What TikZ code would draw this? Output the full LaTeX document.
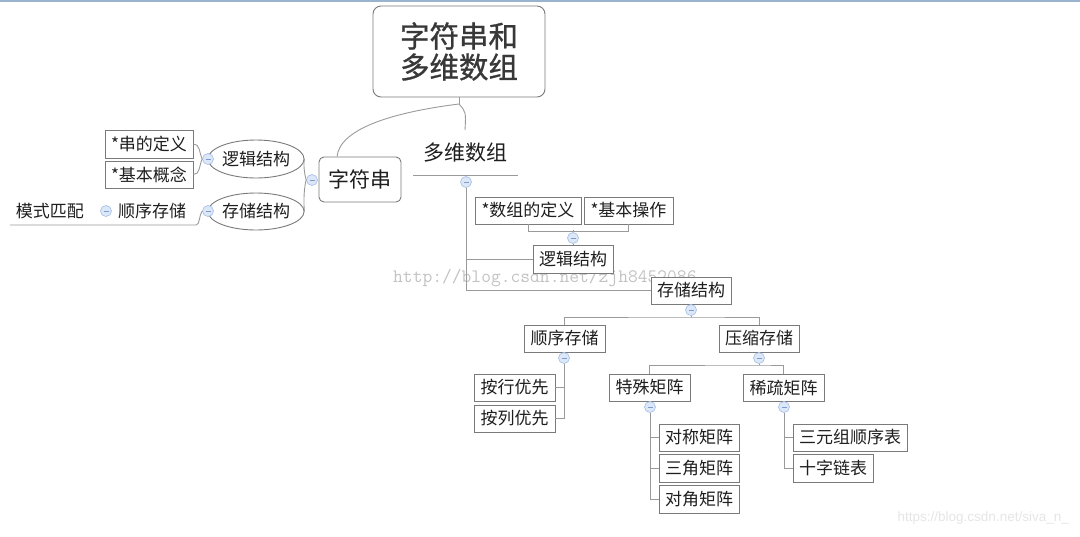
\documentclass[tikz,border=0pt]{standalone}
\usepackage{fontspec}
\usetikzlibrary{shapes.geometric,calc}
\newfontfamily\cjk{Noto Sans CJK SC}
\newfontfamily\cjkmed[FakeBold=0.9]{Noto Sans CJK SC}
\newfontfamily\wmsans{Liberation Sans}
\definecolor{boxgray}{HTML}{7A7A7A}
\definecolor{linegray}{HTML}{9A9A9A}
\definecolor{txt}{HTML}{1E1E1E}
\definecolor{topbar}{HTML}{9AB4D0}
\definecolor{cfill}{HTML}{DCE7F8}
\definecolor{cdraw}{HTML}{A9C2EA}
\definecolor{cminus}{HTML}{7E9BCB}
\tikzset{
  bx/.style={draw=boxgray, line width=0.9pt, fill=white, inner sep=0pt, text=txt,
    font=\cjk\fontsize{17}{20}\selectfont},
  plain/.style={inner sep=0pt, text=txt, font=\cjk\fontsize{17}{20}\selectfont},
  ell/.style={ellipse, draw=boxgray, line width=0.9pt, fill=white, inner sep=0pt, text=txt,
    font=\cjk\fontsize{17}{20}\selectfont},
  conn/.style={draw=linegray, line width=0.9pt},
  tog/.style={circle, draw=cdraw, fill=cfill, line width=0.7pt, minimum size=11pt, inner sep=0pt,
    path picture={\draw[cminus, line width=0.7pt]
      ([xshift=-2.5pt]path picture bounding box.center) -- ([xshift=2.5pt]path picture bounding box.center);}},
}
\begin{document}
\begin{tikzpicture}[x=1pt,y=-1pt]
\useasboundingbox (0,0) rectangle (1080,536);
\fill[topbar] (0,0) rectangle (1080,2);

% watermarks
\node[anchor=west, inner sep=0pt, text=black!24, font=\ttfamily\fontsize{19}{20}\selectfont] (wm1) at (393,278) {http://blog.csdn.net/zjh8452086};
\node[anchor=east, inner sep=0pt, text=black!10, font=\wmsans\fontsize{13.5}{15}\selectfont] (wm2) at (1069,518) {https://blog.csdn.net/siva\_n\_};

% root
\node[draw=boxgray, line width=0.9pt, rounded corners=8pt, fill=white, minimum width=172pt, minimum height=91pt,
  inner sep=0pt, align=center, text=black!78, font=\cjkmed\fontsize{29.5}{31}\selectfont] (root) at (459,51.5) {字符串和\\多维数组};
\coordinate (j) at (459,104);

% level 1
\node[draw=boxgray, line width=0.9pt, rounded corners=5pt, fill=white, minimum width=82pt, minimum height=45pt,
  inner sep=0pt, text=txt, font=\cjk\fontsize{21}{24}\selectfont] (zfc) at (360,179.5) {字符串};
\node[inner sep=0pt, text=txt, font=\cjk\fontsize{21}{24}\selectfont] (dwsz) at (465,153) {多维数组};
\coordinate (dwtop) at (465,130);
\coordinate (ulL) at (413,175);
\coordinate (ulR) at (518,175);

\draw[conn] (root.south) -- (j);
\draw[conn] (j) .. controls (395,112) and (340,128) .. ([xshift=-23pt]zfc.north);
\draw[conn] (j) .. controls (466,112) .. (dwtop);
\draw[conn] (ulL) -- (ulR);

% left branch
\node[ell, minimum width=82pt, minimum height=38pt] (lj) at (256,159) {逻辑结构};
\node[ell, minimum width=82pt, minimum height=37pt] (cc) at (256,211.5) {存储结构};
\node[bx, minimum width=88pt, minimum height=28pt] (def) at (149,144) {*串的定义};
\node[bx, minimum width=88pt, minimum height=27pt] (gn) at (149,174.5) {*基本概念};
\node[plain] (sx) at (152,211) {顺序存储};
\node[plain] (ms) at (50,211) {模式匹配};
\coordinate (ul2R) at (196,225);
\coordinate (ul2L) at (10,225);

\node[tog] (c1) at (312,180) {};
\node[tog] (c2) at (208,159) {};
\node[tog] (c3) at (208,211) {};
\node[tog] (c4) at (106,211) {};

\draw[conn] (c1.west) .. controls (303,168) and (304,160) .. (lj.east);
\draw[conn] (c1.west) .. controls (303,192) and (304,210) .. (cc.east);
\draw[conn] (c2.west) .. controls (199,152) and (200,144) .. (def.east);
\draw[conn] (c2.west) .. controls (199,166) and (200,174.5) .. (gn.east);
\draw[conn] (c3.west) .. controls (199,215) and (200,225) .. (ul2R) -- (ul2L);

% right branch
\node[tog] (c5) at (466,182) {};
\node[bx, minimum width=106pt, minimum height=27pt] (sz) at (528,210.5) {*数组的定义};
\node[bx, minimum width=89pt, minimum height=27pt] (jb) at (628.5,210.5) {*基本操作};
\node[bx, minimum width=80pt, minimum height=28pt] (lj2) at (573,259) {逻辑结构};
\node[bx, minimum width=80pt, minimum height=27pt] (cc2) at (691,290.5) {存储结构};
\draw[conn] (c5.south) |- (cc2.west);
\draw[conn] (c5.south |- lj2.west) -- (lj2.west);
\draw[conn] (sz.south) -- ++(0,7) -| (jb.south);
\node[tog] (c6) at (573,238) {};
\draw[conn] (c6.north) -- ++(0,-2);
\draw[conn] (c6.south) -- (lj2.north);

\node[bx, minimum width=81pt, minimum height=27pt] (sx2) at (564.5,338.5) {顺序存储};
\node[bx, minimum width=80pt, minimum height=27pt] (ys) at (759,338.5) {压缩存储};
\node[tog] (c7) at (691,310) {};
\draw[conn] (c7.south) -- (691,317);
\draw[conn] (sx2.north) |- (691,317) -| (ys.north);

\node[bx, minimum width=81pt, minimum height=27pt] (hx) at (514.5,387.5) {按行优先};
\node[bx, minimum width=81pt, minimum height=27pt] (lx) at (514.5,418.5) {按列优先};
\node[tog] (c8) at (564,358) {};
\draw[conn] (c8.south) |- (lx.east);
\draw[conn] (c8.south |- hx.east) -- (hx.east);

\node[bx, minimum width=81pt, minimum height=27pt] (ts) at (649.5,387.5) {特殊矩阵};
\node[bx, minimum width=81pt, minimum height=27pt] (xs) at (783.5,387.5) {稀疏矩阵};
\node[tog] (c9) at (759,358) {};
\draw[conn] (c9.south) -- (759,365);
\draw[conn] (ts.north) |- (759,365) -| (xs.north);

\node[bx, minimum width=80pt, minimum height=27pt] (dc) at (699,437.5) {对称矩阵};
\node[bx, minimum width=80pt, minimum height=28pt] (sj) at (699,468) {三角矩阵};
\node[bx, minimum width=80pt, minimum height=28pt] (dj) at (699,499) {对角矩阵};
\node[tog] (c10) at (650,407) {};
\draw[conn] (c10.south) |- (dj.west);
\draw[conn] (c10.south |- dc.west) -- (dc.west);
\draw[conn] (c10.south |- sj.west) -- (sj.west);

\node[bx, minimum width=114pt, minimum height=27pt] (sy) at (850,437.5) {三元组顺序表};
\node[bx, minimum width=80pt, minimum height=28pt] (sz2) at (833,468) {十字链表};
\node[tog] (c11) at (784,407) {};
\draw[conn] (c11.south) |- (sz2.west);
\draw[conn] (c11.south |- sy.west) -- (sy.west);
\end{tikzpicture}
\end{document}
